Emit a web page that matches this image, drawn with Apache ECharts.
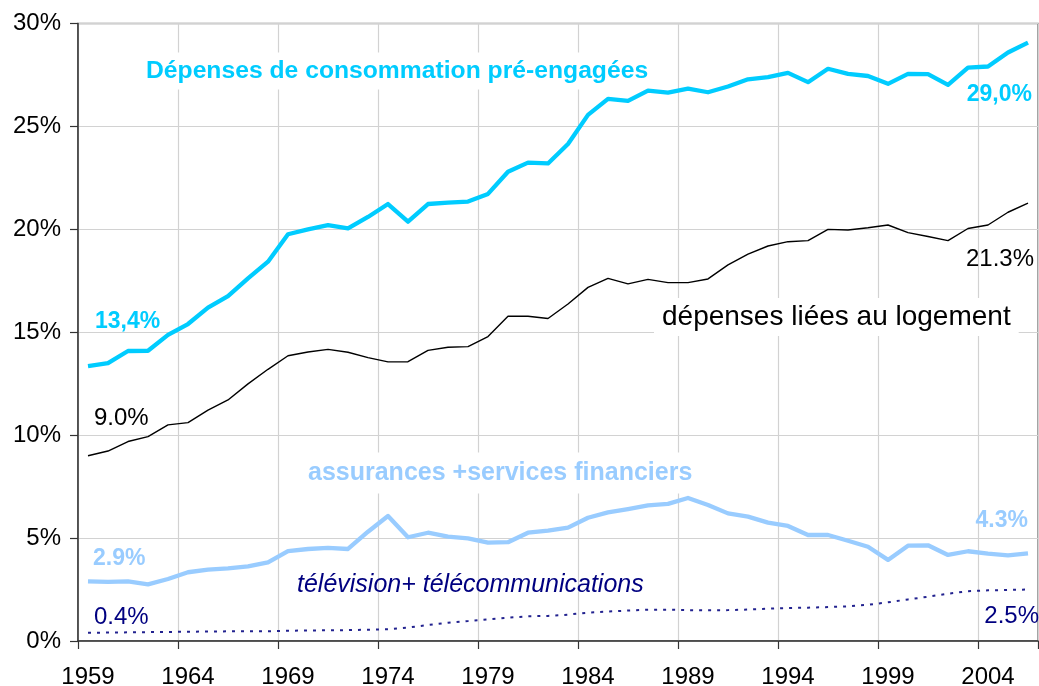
<!DOCTYPE html>
<html>
<head>
<meta charset="utf-8">
<script src="https://cdn.jsdelivr.net/npm/echarts@6/dist/echarts.min.js"></script>
<style>
html,body{margin:0;padding:0;background:#fff;}
#chart{width:1039px;height:686px;}
</style>
</head>
<body>
<div id="chart"></div>
<script>
var years = ['1959','1960','1961','1962','1963','1964','1965','1966','1967','1968',
  '1969','1970','1971','1972','1973','1974','1975','1976','1977','1978',
  '1979','1980','1981','1982','1983','1984','1985','1986','1987','1988',
  '1989','1990','1991','1992','1993','1994','1995','1996','1997','1998',
  '1999','2000','2001','2002','2003','2004','2005','2006'];

var preEngaged = [13.36, 13.5, 14.09, 14.1, 14.87, 15.4, 16.2, 16.76, 17.62, 18.43,
  19.76, 20.0, 20.2, 20.05, 20.6, 21.23, 20.37, 21.23, 21.3, 21.35,
  21.72, 22.8, 23.24, 23.2, 24.15, 25.56, 26.34, 26.24, 26.74, 26.64,
  26.84, 26.66, 26.94, 27.29, 27.39, 27.6, 27.15, 27.8, 27.55, 27.45,
  27.07, 27.55, 27.54, 27.02, 27.86, 27.91, 28.59, 29.07];

var housing = [9.0, 9.23, 9.69, 9.93, 10.5, 10.61, 11.22, 11.71, 12.49, 13.2,
  13.86, 14.04, 14.17, 14.03, 13.77, 13.56, 13.57, 14.12, 14.27, 14.3,
  14.79, 15.78, 15.78, 15.67, 16.37, 17.18, 17.62, 17.35, 17.57, 17.41,
  17.41, 17.59, 18.27, 18.8, 19.19, 19.4, 19.45, 20.0, 19.97, 20.08,
  20.21, 19.84, 19.65, 19.45, 20.04, 20.21, 20.83, 21.27];

var insurance = [2.9, 2.87, 2.9, 2.75, 3.01, 3.34, 3.47, 3.53, 3.63, 3.82,
  4.37, 4.47, 4.52, 4.47, 5.31, 6.07, 5.04, 5.26, 5.07, 4.99,
  4.78, 4.8, 5.26, 5.36, 5.51, 5.99, 6.25, 6.41, 6.59, 6.66,
  6.95, 6.61, 6.2, 6.04, 5.75, 5.59, 5.15, 5.15, 4.87, 4.58,
  3.94, 4.63, 4.65, 4.18, 4.36, 4.24, 4.16, 4.26];

var telecom = [0.40, 0.41, 0.42, 0.43, 0.44, 0.45, 0.46, 0.47, 0.48, 0.47,
  0.50, 0.51, 0.52, 0.53, 0.55, 0.57, 0.65, 0.78, 0.89, 0.97,
  1.05, 1.13, 1.20, 1.22, 1.28, 1.38, 1.43, 1.48, 1.52, 1.52,
  1.50, 1.49, 1.50, 1.53, 1.57, 1.60, 1.62, 1.65, 1.68, 1.76,
  1.88, 2.02, 2.15, 2.30, 2.42, 2.46, 2.48, 2.50];

var yTicks = [0, 5, 10, 15, 20, 25, 30];

var FONT = '"Liberation Sans", Arial, Helvetica, sans-serif';

function txt(x, y, text, size, color, opts) {
  opts = opts || {};
  var style = {
    x: x, y: y, text: text,
    fontFamily: FONT, fontSize: size,
    fontWeight: opts.bold ? 'bold' : 'normal',
    fontStyle: opts.italic ? 'italic' : 'normal',
    fill: color,
    align: opts.align || 'left',
    verticalAlign: 'middle'
  };
  if (opts.bg) {
    style.backgroundColor = '#ffffff';
    style.padding = opts.pad || [6, 8, 6, 8];
  }
  return { type: 'text', z: 1, style: style, silent: true };
}

var chart = echarts.init(document.getElementById('chart'), null, {renderer: 'canvas'});

var option = {
  animation: false,
  backgroundColor: '#ffffff',
  grid: {
    left: 78, right: 1, top: 23.5, bottom: 45,
    containLabel: false,
    outerBoundsMode: 'none',
    show: true, borderColor: '#808080', borderWidth: 1.5, backgroundColor: 'transparent'
  },
  xAxis: {
    type: 'category',
    data: years,
    boundaryGap: true,
    axisLine: { show: true, lineStyle: { color: '#333333', width: 1.5 } },
    axisTick: { show: true, interval: 4, length: 8, inside: false, lineStyle: { color: '#333333', width: 1.2 } },
    axisLabel: { interval: 4, margin: 24, fontFamily: FONT, fontSize: 24, color: '#000000' },
    splitLine: { show: true, interval: 4, lineStyle: { color: '#d2d2d2', width: 1.2 } }
  },
  yAxis: {
    type: 'value',
    min: yTicks[0], max: yTicks[yTicks.length - 1], interval: 5,
    axisLine: { show: true, lineStyle: { color: '#333333', width: 1.5 } },
    axisTick: { show: true, length: 8, lineStyle: { color: '#333333', width: 1.2 } },
    axisLabel: { margin: 17, fontFamily: FONT, fontSize: 24, color: '#000000',
      formatter: function (v) { return v + '%'; } },
    splitLine: { show: true, lineStyle: { color: '#d2d2d2', width: 1.2 } }
  },
  series: [
    {
      name: 'télévision+ télécommunications', type: 'line', data: telecom,
      symbol: 'none', z: 3,
      lineStyle: { color: '#22228f', width: 2, type: [3, 6] }
    },
    {
      name: 'assurances +services financiers', type: 'line', data: insurance,
      symbol: 'none', z: 4,
      lineStyle: { color: '#99ccff', width: 4.3, join: 'round' }
    },
    {
      name: 'dépenses liées au logement', type: 'line', data: housing,
      symbol: 'none', z: 5,
      lineStyle: { color: '#000000', width: 1.4 }
    },
    {
      name: 'Dépenses de consommation pré-engagées', type: 'line', data: preEngaged,
      symbol: 'none', z: 6,
      lineStyle: { color: '#00ccff', width: 4.3, join: 'round' }
    }
  ],
  graphic: [
    txt(139, 71, 'Dépenses de consommation pré-engagées', 24.7, '#00ccff', {bold: true, bg: true, pad: [6, 7, 6, 7]}),
    txt(1032, 95, '29,0%', 23, '#00ccff', {bold: true, align: 'right'}),
    txt(95, 322, '13,4%', 23, '#00ccff', {bold: true}),
    txt(94, 418, '9.0%', 24, '#000000'),
    txt(1034, 259, '21.3%', 24, '#000000', {align: 'right'}),
    txt(654, 317, 'dépenses liées au logement', 28, '#000000', {bg: true, pad: [5, 8, 5, 8]}),
    txt(300, 473, 'assurances +services financiers', 25, '#99ccff', {bold: true, bg: true, pad: [8, 8, 8, 8]}),
    txt(1028, 521, '4.3%', 23, '#99ccff', {bold: true, align: 'right'}),
    txt(93, 559, '2.9%', 23, '#99ccff', {bold: true}),
    txt(297, 585, 'télévision+ télécommunications', 25, '#000080', {italic: true}),
    txt(94, 617, '0.4%', 24, '#000080'),
    txt(1039, 616, '2.5%', 24, '#000080', {align: 'right'})
  ]
};

chart.setOption(option);
</script>
</body>
</html>
